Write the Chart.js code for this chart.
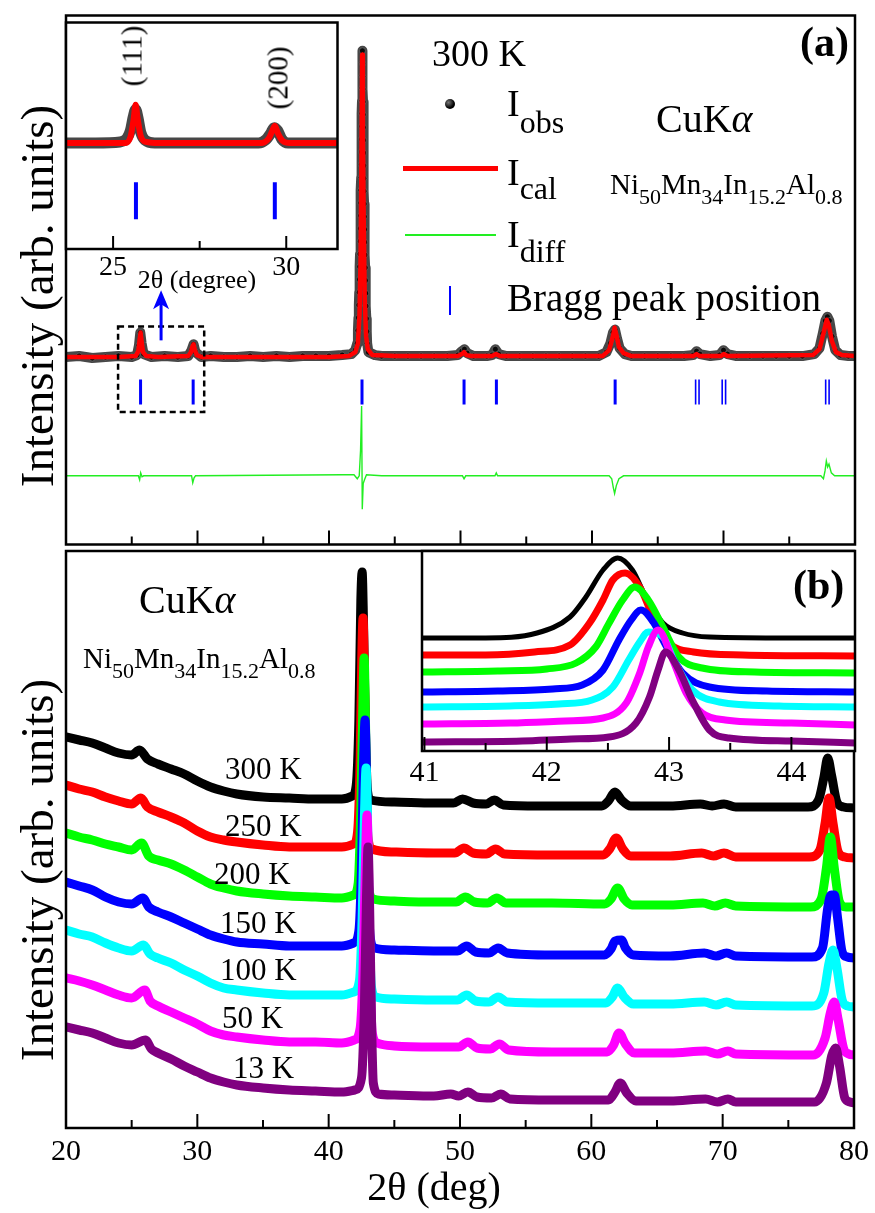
<!DOCTYPE html>
<html><head><meta charset="utf-8">
<script src="https://cdn.jsdelivr.net/npm/chart.js"></script>
<style>
html,body{margin:0;padding:0;background:#fff;}
#fig{position:relative;width:875px;height:1213px;overflow:hidden;background:#fff;font-family:'Liberation Serif','Times New Roman',serif;color:#000;}
canvas{position:absolute;left:0;}
.t{position:absolute;white-space:nowrap;line-height:1;}
.s{position:relative;}
.rot{position:absolute;white-space:nowrap;line-height:1;transform:translate(-50%,-50%) rotate(-90deg);}
.ctr{position:absolute;white-space:nowrap;line-height:1;transform:translateX(-50%);}
.sym{position:absolute;}
</style></head>
<body><div id="fig">
<canvas id="cA" width="875" height="560" style="top:0"></canvas>
<canvas id="cB" width="875" height="673" style="top:540px"></canvas>
<canvas id="cIA" width="360" height="300" style="top:0"></canvas>
<canvas id="cIB" width="875" height="260" style="top:540px"></canvas>

<!-- panel (a) texts -->
<div class="t" style="left:432px;top:34px;font-size:38px">300 K</div>
<div class="sym" style="left:445px;top:99px;width:10px;height:10px;border-radius:50%;background:radial-gradient(circle at 35% 35%,#777,#000 60%)"></div>
<div class="t" style="left:507px;top:84px;font-size:38px">I<span class="s" style="font-size:32px;top:17px">obs</span></div>
<div class="sym" style="left:403px;top:166px;width:95px;height:5px;background:#ff0000"></div>
<div class="t" style="left:507px;top:153px;font-size:38px">I<span class="s" style="font-size:32px;top:14px">cal</span></div>
<div class="sym" style="left:405px;top:234px;width:91px;height:2px;background:#22ee22"></div>
<div class="t" style="left:507px;top:215px;font-size:38px">I<span class="s" style="font-size:32px;top:15px">diff</span></div>
<div class="sym" style="left:449px;top:286px;width:2px;height:29px;background:#0000ff"></div>
<div class="t" style="left:507px;top:278px;font-size:39px">Bragg peak position</div>
<div class="t" style="left:656px;top:99px;font-size:40px">CuK<i>α</i></div>
<div class="t" style="left:610px;top:170px;font-size:29px">Ni<span class="s" style="font-size:22px;top:10px">50</span>Mn<span class="s" style="font-size:22px;top:10px">34</span>In<span class="s" style="font-size:22px;top:10px">15.2</span>Al<span class="s" style="font-size:22px;top:10px">0.8</span></div>
<div class="t" style="left:800px;top:21px;font-size:42px;font-weight:bold">(a)</div>
<div class="rot" style="left:37px;top:296px;font-size:47px">Intensity (arb. units)</div>
<div class="rot" style="left:132px;top:56px;font-size:29px">(111)</div>
<div class="rot" style="left:278px;top:78px;font-size:29px">(200)</div>
<div class="ctr" style="left:197px;top:267px;font-size:26px">2θ (degree)</div>

<!-- panel (b) texts -->
<div class="t" style="left:793px;top:564px;font-size:42px;font-weight:bold">(b)</div>
<div class="t" style="left:139px;top:580px;font-size:40px">CuK<i>α</i></div>
<div class="t" style="left:83px;top:644px;font-size:29px">Ni<span class="s" style="font-size:22px;top:10px">50</span>Mn<span class="s" style="font-size:22px;top:10px">34</span>In<span class="s" style="font-size:22px;top:10px">15.2</span>Al<span class="s" style="font-size:22px;top:10px">0.8</span></div>
<div class="t" style="left:225px;top:753px;font-size:31px">300 K</div>
<div class="t" style="left:225px;top:810px;font-size:31px">250 K</div>
<div class="t" style="left:214px;top:858px;font-size:31px">200 K</div>
<div class="t" style="left:220px;top:907px;font-size:31px">150 K</div>
<div class="t" style="left:220px;top:954px;font-size:31px">100 K</div>
<div class="t" style="left:222px;top:1002px;font-size:31px">50 K</div>
<div class="t" style="left:233px;top:1052px;font-size:31px">13 K</div>
<div class="rot" style="left:37px;top:870px;font-size:47px">Intensity (arb. units)</div>
<div class="ctr" style="left:434px;top:1167px;font-size:40px">2θ (deg)</div>
</div>

<script>
// ---------- Panel (a): Rietveld refinement at 300 K (2θ in deg, intensity in arb. units) ----------
const obs300 = [[20,191],[21,192],[22,190],[23,191],[24,192],[25,191],[25.4,193],[25.55,203],[25.65,216],[25.75,205],[25.9,194],[26.5,191],[27.5,192],[28.5,191],[29.3,192],[29.55,198],[29.7,204],[29.85,196],[30.3,191],[31,192],[32,191],[33,191],[34,192],[35,191],[36,192],[37,191],[38,192],[39,192],[40,192],[41,193],[41.7,194],[42.0,198],
[42.15,205],[42.2,218],[42.24,231],[42.27,244],[42.3,257],[42.32,270],[42.34,283],[42.36,296],[42.38,309],[42.39,322],[42.41,335],[42.42,348],[42.43,361],[42.45,374],[42.46,387],[42.47,400],[42.48,413],[42.49,426],[42.5,439],[42.51,452],[42.515,465],[42.52,478],[42.53,491],[42.54,503],
[42.56,490],[42.57,477],[42.58,464],[42.59,451],[42.6,438],[42.61,425],[42.62,412],[42.63,399],[42.64,386],[42.65,373],[42.66,360],[42.67,347],[42.68,334],[42.7,321],[42.71,308],[42.73,295],[42.75,282],[42.77,269],[42.79,256],[42.81,243],[42.84,230],[42.87,217],[42.9,205],
[43.0,196],[43.5,193],[44,192],[45,192],[46,192],[47,192],[48,192],[49,192],[49.8,193],[50.1,197],[50.3,199],[50.5,195],[51,192],[52,192],[52.4,193],[52.65,199],[52.9,194],[53.5,192],[54.5,192],[55.5,192],[56.5,192],[57.5,192],[58.5,192],[59.5,192],[60.5,192],[61.1,196],[61.4,205],[61.6,216],[61.75,219],[61.9,210],[62.1,200],[62.5,194],[63,192],[64,192],[65,192],[66,192],[67,192],[67.7,193],[67.95,197],[68.2,194],[69,192],[69.7,193],[70.0,198],[70.3,194],[71,192],[72,192],[73,192],[74,192],[75,192],[76,192],[76.9,194],[77.3,200],[77.55,215],[77.75,228],[77.9,232],[78.05,228],[78.25,212],[78.5,198],[78.9,193],[79.5,192],[80,192]];
const cal300 = [[20,191],[22,191],[24,191],[25.3,192],[25.5,197],[25.6,209],[25.67,216],[25.74,208],[25.85,196],[26.1,192],[27,191],[29.3,192],[29.5,196],[29.62,202],[29.7,204],[29.8,198],[29.95,193],[30.3,191],[35,191],[40,191],[41.5,192],[42.0,196],[42.2,205],[42.32,235],[42.4,290],[42.46,380],[42.52,499],[42.58,420],[42.64,330],[42.72,250],[42.82,212],[42.95,199],[43.3,193],[45,192],[49.8,192],[50.1,194],[50.27,196],[50.45,193],[50.8,192],[52.4,192],[52.7,194],[53.0,192],[60.8,192],[61.3,198],[61.55,210],[61.72,221],[61.85,214],[62.05,201],[62.4,195],[63,192],[67.7,192],[67.95,194],[68.2,192],[69.8,192],[70.02,194],[70.3,192],[76.8,193],[77.3,199],[77.6,215],[77.85,229],[78.0,224],[78.25,207],[78.55,196],[79,193],[80,192]];
const diff300 = [[20,70],[25.5,70],[25.6,66],[25.68,73],[25.78,69],[25.9,70],[29.55,70],[29.64,63],[29.74,68],[29.85,70],[41.0,71],[41.9,71],[42.15,67],[42.3,70],[42.4,96],[42.48,141],[42.53,36],[42.6,62],[42.7,66],[42.85,71],[44,70],[50.15,70],[50.27,67],[50.4,70],[52.62,70],[52.72,73],[52.82,70],[61.3,70],[61.5,67],[61.62,58],[61.72,52],[61.85,60],[62.05,67],[62.4,70],[77.4,70],[77.6,67],[77.72,75],[77.82,85],[77.92,79],[78.02,82],[78.2,73],[78.45,70],[80,70]];
const braggSingle = [25.67, 29.67, 42.51, 50.27, 52.73, 61.76];
const braggDouble = [67.88, 68.14, 69.9, 70.16, 77.77, 78.03];
const braggLevel = 155.5;

// inset of panel (a)
const insetObs = [[23.64,111],[24.5,111],[25.2,112],[25.4,116],[25.5,124],[25.58,138],[25.65,146],[25.72,137],[25.8,122],[25.92,114],[26.2,111],[27.5,111],[29.2,111],[29.4,114],[29.55,121],[29.65,127],[29.75,124],[29.87,115],[30.05,111],[31.48,111]];
const insetCal = [[23.64,111],[25.35,111],[25.5,117],[25.59,135],[25.65,151],[25.71,136],[25.8,118],[25.95,112],[26.2,111],[29.3,111],[29.5,116],[29.6,124],[29.67,129],[29.76,121],[29.9,113],[30.1,111],[31.48,111]];
const insetBragg = [25.66, 29.67];
const insetBraggLevel = 50.5;

// ---------- Panel (b): temperature dependent patterns ----------
const xrd300K = [[20,391],[21,388],[22,385],[23,380],[24,375],[25,373],[25.6,378],[26.2,369],[27,364],[28,359],[29,354],[30,347],[31,341],[32,337],[33,334],[35,331],[37,330],[39,329],[41,329],[41.8,332],[42.1,343],[42.3,408],[42.45,528],[42.55,556],[42.65,508],[42.8,398],[42.95,338],[43.2,328],[45,326],[48,325],[49.5,325],[50.2,329],[51,325],[52,324],[52.6,328],[53.3,323],[56,322],[59,322],[60.8,322],[61.3,327],[61.8,336],[62.3,328],[63,322],[66,322],[68.3,324],[69.2,322],[70.1,324],[71,321],[74,321],[76.5,321],[77.3,328],[77.7,350],[78.0,370],[78.3,352],[78.7,326],[79.2,321],[80,320]];
const xrd250K = [[20,343],[21,339],[22,336],[23,331],[24,327],[25,324],[25.7,330],[26.2,321],[27,316],[28,311],[29,305],[30,297],[31,291],[32,288],[33,286],[35,283],[37,281],[39,281],[41,281],[41.9,284],[42.2,296],[42.4,370],[42.52,470],[42.62,510],[42.72,450],[42.85,340],[43.0,290],[43.3,279],[45,276],[48,275],[49.6,275],[50.3,280],[51,275],[52,274],[52.7,279],[53.4,274],[57,273],[60.9,273],[61.4,279],[61.9,290],[62.4,279],[63,272],[66,272],[68.4,275],[69.3,272],[70.1,275],[71,271],[76.6,271],[77.4,278],[77.8,305],[78.1,330],[78.4,305],[78.8,276],[79.3,271],[80,270]];
const xrd200K = [[20,295],[21,291],[22,288],[23,284],[24,281],[25,278],[25.75,285],[26.3,272],[27,268],[28,264],[29,258],[30,251],[31,244],[32,240],[33,237],[35,234],[37,232],[39,231],[41,230],[41.9,233],[42.25,245],[42.45,320],[42.6,420],[42.7,470],[42.8,410],[42.92,300],[43.05,240],[43.4,229],[45,227],[48,226],[49.7,226],[50.4,231],[51.1,226],[52.1,225],[52.8,230],[53.5,225],[57,225],[61,224],[61.5,229],[62.0,240],[62.5,229],[63.1,223],[66,223],[68.5,225],[69.4,222],[70.2,225],[71,222],[76.7,221],[77.5,229],[77.9,260],[78.2,291],[78.5,260],[78.9,226],[79.4,221],[80,221]];
const xrd150K = [[20,246],[21,242],[22,238],[23,231],[24,226],[25,224],[25.85,230],[26.3,221],[27,216],[28,211],[29,205],[30,199],[31,193],[32,189],[33,186],[35,184],[37,182],[39,182],[41,182],[41.9,185],[42.3,197],[42.5,260],[42.65,360],[42.77,408],[42.88,350],[43.0,250],[43.15,192],[43.5,180],[45,178],[48,177],[49.8,177],[50.5,182],[51.2,176],[52.2,175],[52.9,180],[53.6,175],[57,173],[61,173],[61.5,179],[61.8,187],[62.3,188],[62.6,180],[63.2,173],[66,172],[68.6,175],[69.5,172],[70.3,175],[71,172],[76.8,171],[77.6,180],[78.0,220],[78.25,233],[78.5,233],[78.75,210],[79.1,176],[79.5,171],[80,170]];
const xrd100K = [[20,198],[21,194],[22,191],[23,185],[24,180],[25,177],[25.9,183],[26.4,174],[27,170],[28,165],[29,158],[30,152],[31,145],[32,140],[33,138],[35,135],[37,133],[39,133],[41,133],[41.9,136],[42.35,148],[42.55,210],[42.72,310],[42.85,360],[42.97,300],[43.1,200],[43.25,142],[43.6,131],[45,129],[48,128],[49.8,128],[50.5,133],[51.2,127],[52.2,126],[52.9,131],[53.6,126],[57,125],[61.1,125],[61.6,131],[62.0,140],[62.5,131],[63.2,124],[66,124],[68.6,126],[69.5,123],[70.3,126],[71,123],[76.8,122],[77.7,135],[78.1,165],[78.4,178],[78.7,160],[79.1,128],[79.5,122],[80,121]];
const xrd50K = [[20,150],[21,147],[22,143],[23,138],[24,133],[25,130],[26.0,138],[26.4,127],[27,122],[28,116],[29,110],[30,104],[31,97],[32,93],[33,91],[35,88],[37,86],[39,86],[41,85],[41.95,88],[42.4,100],[42.62,160],[42.8,265],[42.92,313],[43.04,255],[43.17,150],[43.32,95],[43.7,85],[45,82],[48,81],[49.9,81],[50.6,86],[51.3,80],[52.3,79],[53.0,84],[53.7,78],[57,76],[61.2,76],[61.7,83],[62.1,95],[62.6,84],[63.3,75],[66,75],[68.7,77],[69.6,74],[70.4,77],[71,74],[76.9,73],[77.8,90],[78.2,115],[78.5,126],[78.8,108],[79.2,80],[79.6,74],[80,73]];
const xrd13K = [[20,101],[21,98],[22,95],[23,90],[24,85],[25,83],[26.05,88],[26.5,79],[27,75],[28,69],[29,62],[30,56],[31,50],[32,46],[33,43],[35,40],[37,38],[39,37],[41,36],[42.0,38],[42.5,50],[42.72,120],[42.88,230],[43.0,281],[43.12,220],[43.26,110],[43.4,45],[43.8,34],[45,33],[48,32],[49.3,34],[49.9,32],[50.6,36],[51.3,31],[52.4,30],[53.1,34],[53.8,29],[57,28],[61.3,28],[61.8,36],[62.2,45],[62.7,35],[63.4,27],[66,27],[68.7,29],[69.6,26],[70.4,29],[71,26],[77.0,26],[77.9,45],[78.3,72],[78.6,80],[78.9,62],[79.3,30],[79.7,26],[80,25]];

// inset of panel (b): (220) peak region
const peak300K = [[40.98,113],[41.5,113],[41.92,118],[42.19,134],[42.32,154],[42.46,181],[42.58,193],[42.7,181],[42.81,154],[42.95,128],[43.11,118],[43.33,114],[44.0,113],[44.52,113]];
const peak250K = [[40.98,96],[41.5,96],[41.9,99],[42.19,106],[42.35,128],[42.46,151],[42.54,171],[42.64,178],[42.76,164],[42.87,134],[43.0,108],[43.2,99],[43.6,96],[44.52,95]];
const peak200K = [[40.98,79],[41.6,80],[42.0,82],[42.24,88],[42.4,104],[42.51,128],[42.62,151],[42.72,164],[42.83,151],[42.95,124],[43.08,94],[43.27,83],[43.7,79],[44.52,78]];
const peak150K = [[40.98,59],[41.6,60],[42.05,62],[42.29,66],[42.46,81],[42.59,111],[42.69,131],[42.77,141],[42.87,129],[42.98,104],[43.11,78],[43.33,64],[43.8,60],[44.52,59]];
const peak100K = [[40.98,44],[41.7,45],[42.1,47],[42.37,51],[42.54,64],[42.67,91],[42.76,109],[42.83,119],[42.95,114],[43.05,88],[43.19,61],[43.41,49],[43.9,45],[44.52,44]];
const peak50K = [[40.98,27],[41.7,28],[42.15,30],[42.46,33],[42.65,48],[42.76,78],[42.83,104],[42.91,121],[43.03,91],[43.14,58],[43.27,38],[43.46,31],[44.0,28],[44.52,26]];
const peak13K = [[40.98,9],[41.8,10],[42.2,12],[42.51,14],[42.73,28],[42.84,54],[42.91,81],[42.97,99],[43.08,81],[43.19,51],[43.33,21],[43.49,13],[44.0,10],[44.52,8]];

const temperatures = ['300 K','250 K','200 K','150 K','100 K','50 K','13 K'];
const seriesColors = ['#000000','#ff0000','#00ff00','#0000ff','#00ffff','#ff00ff','#800080'];
const mainSeries = [xrd300K, xrd250K, xrd200K, xrd150K, xrd100K, xrd50K, xrd13K];
const insetSeries = [peak300K, peak250K, peak200K, peak150K, peak100K, peak50K, peak13K];

// tick values
const mainTickLabels = [20,30,40,50,60,70,80];
const mainMajor = [30,40,50,60,70];
const mainMinor = [25,35,45,55,65,75];
const insetATickLabels = [25,30];
const insetAMinor = [27.5];
const insetBTickLabels = [41,42,43,44];
const insetBMinor = [41.5,42.5,43.5];

// ---------- drawing ----------
const SERIF = "'Liberation Serif', 'Times New Roman', serif";
Chart.defaults.font.family = SERIF;
Chart.defaults.color = '#000';
const xy = a => a.map(([x,y]) => ({x, y}));

const frame = {
  id: 'frame',
  beforeDraw(chart, args, o) {
    if (!o.fill) return;
    const {ctx, chartArea: a} = chart;
    ctx.save(); ctx.fillStyle = '#fff'; ctx.fillRect(a.left, a.top, a.width, a.height); ctx.restore();
  },
  afterDraw(chart, args, o) {
    const {ctx, chartArea: a, scales: {x}} = chart;
    ctx.save();
    ctx.strokeStyle = '#000';
    ctx.lineWidth = 2;
    const draw = (vals, len) => vals.forEach(v => {
      const px = x.getPixelForValue(v);
      ctx.beginPath(); ctx.moveTo(px, a.bottom); ctx.lineTo(px, a.bottom - len); ctx.stroke();
    });
    draw(o.major || [], o.majorLen || 14);
    draw(o.minor || [], o.minorLen || 8);
    ctx.lineWidth = 2.5;
    ctx.strokeRect(a.left, a.top, a.width, a.height);
    ctx.restore();
  }
};

const zoomMark = {
  id: 'zoomMark',
  afterDatasetsDraw(chart, args, o) {
    if (!o.box) return;
    const {ctx, scales: {x, y}} = chart;
    ctx.save();
    const x0 = x.getPixelForValue(o.box[0]), x1 = x.getPixelForValue(o.box[1]);
    const y0 = y.getPixelForValue(o.box[3]), y1 = y.getPixelForValue(o.box[2]);
    ctx.setLineDash([6, 4]); ctx.lineWidth = 2.5; ctx.strokeStyle = '#000';
    ctx.strokeRect(x0, y0, x1 - x0, y1 - y0);
    ctx.setLineDash([]);
    const ax = x.getPixelForValue(o.arrow[0]), ay0 = y.getPixelForValue(o.arrow[1]), ay1 = y.getPixelForValue(o.arrow[2]);
    ctx.strokeStyle = '#0000ff'; ctx.fillStyle = '#0000ff'; ctx.lineWidth = 3;
    ctx.beginPath(); ctx.moveTo(ax, ay0); ctx.lineTo(ax, ay1 + 12); ctx.stroke();
    ctx.beginPath(); ctx.moveTo(ax, ay1); ctx.lineTo(ax - 8, ay1 + 19); ctx.lineTo(ax, ay1 + 14); ctx.lineTo(ax + 8, ay1 + 19); ctx.closePath(); ctx.fill();
    ctx.restore();
  }
};

const hiddenScale = (min, max) => ({type: 'linear', min, max, display: false});
const tickScale = (min, max, labels, size, pad, h) => ({
  type: 'linear', min, max, display: true,
  grid: {display: false, drawTicks: false},
  border: {display: false},
  ticks: {autoSkip: false, maxRotation: 0, padding: pad, color: '#000', font: {family: SERIF, size}},
  afterBuildTicks: s => { s.ticks = labels.map(v => ({value: v})); },
  afterFit: s => { s.height = h; }
});
const base = {responsive: false, animation: false, devicePixelRatio: 1, events: []};
const noLegend = {legend: {display: false}, tooltip: {enabled: false}};

// Chart A: Rietveld panel
new Chart(document.getElementById('cA'), {
  type: 'scatter',
  data: {datasets: [
    {data: xy(obs300), showLine: true, borderColor: '#474747', borderWidth: 10, borderJoinStyle: 'round', pointRadius: 3, pointBackgroundColor: '#0a0a0a', pointBorderColor: '#777', pointBorderWidth: 0.6, order: 3},
    {data: xy(cal300), showLine: true, borderColor: '#ff0000', borderWidth: 4.5, borderJoinStyle: 'round', pointRadius: 0, order: 2},
    {data: xy(diff300), showLine: true, borderColor: '#22ee22', borderWidth: 1.4, pointRadius: 0, order: 1},
    {data: braggSingle.map(v => ({x: v, y: braggLevel})), showLine: false, pointStyle: 'line', pointRotation: 90, pointRadius: 12.5, pointBorderColor: '#0000ff', pointBorderWidth: 3, order: 0},
    {data: braggDouble.map(v => ({x: v, y: braggLevel})), showLine: false, pointStyle: 'line', pointRotation: 90, pointRadius: 12.5, pointBorderColor: '#0000ff', pointBorderWidth: 1.6, order: 0}
  ]},
  options: {...base,
    layout: {padding: {left: 66, top: 12, right: 20, bottom: 9}},
    scales: {x: hiddenScale(20, 80), y: hiddenScale(0, 539)},
    plugins: {...noLegend,
      frame: {major: mainMajor, minor: mainMinor, majorLen: 14, minorLen: 8},
      zoomMark: {box: [23.96, 30.51, 135, 222], arrow: [27.23, 208, 259]}}
  },
  plugins: [frame, zoomMark]
});

// Chart B: temperature series
new Chart(document.getElementById('cB'), {
  type: 'scatter',
  data: {datasets: mainSeries.map((s, i) => ({
    label: temperatures[i], data: xy(s), showLine: true, borderColor: seriesColors[i],
    borderWidth: 9, borderJoinStyle: 'round', borderCapStyle: 'round', cubicInterpolationMode: 'monotone',
    pointRadius: 0, order: 10 - i
  }))},
  options: {...base,
    layout: {padding: {left: 66, top: 11, right: 20, bottom: 0}},
    scales: {x: tickScale(20, 80, mainTickLabels, 30, 6, 85), y: hiddenScale(0, 577)},
    plugins: {...noLegend, frame: {major: mainMajor, minor: mainMinor, majorLen: 14, minorLen: 8}}
  },
  plugins: [frame]
});

// Inset of (a)
new Chart(document.getElementById('cIA'), {
  type: 'scatter',
  data: {datasets: [
    {data: xy(insetObs), showLine: true, borderColor: '#474747', borderWidth: 11, borderJoinStyle: 'round', cubicInterpolationMode: 'monotone', pointRadius: 0, order: 2},
    {data: xy(insetCal), showLine: true, borderColor: '#ff0000', borderWidth: 6, borderJoinStyle: 'round', cubicInterpolationMode: 'monotone', pointRadius: 0, order: 1},
    {data: insetBragg.map(v => ({x: v, y: insetBraggLevel})), showLine: false, pointStyle: 'line', pointRotation: 90, pointRadius: 18.5, pointBorderColor: '#0000ff', pointBorderWidth: 4, order: 0}
  ]},
  options: {...base,
    layout: {padding: {left: 66, top: 12, right: 18, bottom: 0}},
    scales: {x: tickScale(23.64, 31.48, insetATickLabels, 28, 2, 51), y: hiddenScale(0, 237)},
    plugins: {...noLegend, frame: {fill: true, major: insetATickLabels, minor: insetAMinor, majorLen: 13, minorLen: 8}}
  },
  plugins: [frame]
});

// Inset of (b)
new Chart(document.getElementById('cIB'), {
  type: 'scatter',
  data: {datasets: insetSeries.map((s, i) => ({
    label: temperatures[i], data: xy(s), showLine: true, borderColor: seriesColors[i],
    borderWidth: i === 0 ? 5 : 7, borderJoinStyle: 'round', cubicInterpolationMode: 'monotone',
    pointRadius: 0, order: 10 - i
  }))},
  options: {...base,
    layout: {padding: {left: 422, top: 11, right: 20, bottom: 0}},
    scales: {x: tickScale(40.98, 44.52, insetBTickLabels, 30, 4, 49), y: hiddenScale(0, 200)},
    plugins: {...noLegend, frame: {fill: true, major: insetBTickLabels, minor: insetBMinor, majorLen: 14, minorLen: 8}}
  },
  plugins: [frame]
});
</script>
</body></html>
